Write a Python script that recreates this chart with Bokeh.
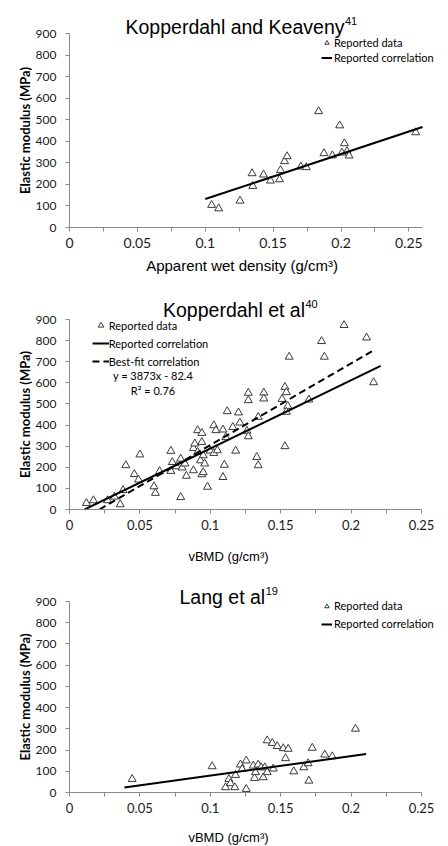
import math
from bokeh.plotting import figure
from bokeh.models import Range1d, FixedTicker, Label, Legend, LegendItem
from bokeh.layouts import column
from bokeh.embed import file_html
from bokeh.resources import INLINE

# ---------------- data ----------------
# Panel 1: Kopperdahl and Keaveny
kk_density = [0.1047, 0.1099, 0.1256, 0.1345, 0.1350, 0.1429, 0.1480, 0.1547, 0.1554,
              0.1584, 0.1603, 0.1704, 0.1744, 0.1835, 0.1874, 0.1936, 0.1990, 0.2007,
              0.2025, 0.2044, 0.2059, 0.2550]
kk_modulus = [104, 88, 124, 251, 192, 245, 217, 223, 266,
              307, 330, 282, 279, 539, 344, 334, 473, 347,
              390, 353, 333, 441]
kk_fit_density = [0.100, 0.260]
kk_fit_modulus = [132, 466]

# Panel 2: Kopperdahl et al
kop_vbmd = [0.012, 0.017, 0.027, 0.032, 0.036, 0.038, 0.040, 0.046, 0.049, 0.050,
            0.060, 0.061, 0.064, 0.072, 0.072, 0.073, 0.076, 0.079, 0.079, 0.080,
            0.082, 0.083, 0.088, 0.088, 0.089, 0.091, 0.091, 0.093, 0.094, 0.095,
            0.094, 0.094, 0.096, 0.095, 0.098, 0.100, 0.1025, 0.1025, 0.104, 0.105,
            0.109, 0.109, 0.110, 0.111, 0.112, 0.116, 0.118, 0.120, 0.121, 0.126,
            0.127, 0.127, 0.127, 0.133, 0.134, 0.134, 0.138, 0.138, 0.151, 0.153,
            0.154, 0.155, 0.154, 0.153, 0.156, 0.170, 0.179, 0.181, 0.195, 0.211,
            0.216]
kop_modulus = [30, 43, 43, 60, 24, 91, 209, 167, 141, 260,
               109, 78, 181, 182, 277, 224, 204, 240, 58, 198,
               217, 159, 185, 290, 312, 272, 375, 232, 166, 176,
               319, 362, 217, 256, 107, 278, 267, 398, 375, 280,
               378, 153, 211, 342, 465, 390, 278, 459, 411, 372,
               346, 552, 517, 248, 209, 438, 553, 525, 523, 580,
               555, 490, 462, 299, 723, 520, 797, 723, 873, 814,
               602]
kop_fit_vbmd = [0.0107, 0.221]
kop_fit_modulus = [0, 680]
kop_best_vbmd = [0.0213, 0.2154]
kop_best_modulus = [0, 752]
kop_equation = "y = 3873x - 82.4"
kop_r2 = "R\u00b2 = 0.76"

# Panel 3: Lang et al
lang_vbmd = [0.0445, 0.1013, 0.1108, 0.1132, 0.1143, 0.1174, 0.1179, 0.1214, 0.1226,
             0.1255, 0.1255, 0.1305, 0.1314, 0.1321, 0.1340, 0.1361, 0.1376, 0.1387,
             0.1404, 0.1404, 0.1440, 0.1447, 0.1475, 0.1518, 0.1534, 0.1553, 0.1593,
             0.1664, 0.1695, 0.1700, 0.1724, 0.1813, 0.1866, 0.2031]
lang_modulus = [63, 123, 24, 63, 43, 24, 82, 131, 110,
                150, 16, 126, 68, 95, 131, 118, 71, 118,
                95, 245, 233, 112, 218, 208, 161, 205, 99,
                118, 137, 55, 210, 178, 170, 300]
lang_fit_vbmd = [0.039, 0.2107]
lang_fit_modulus = [24, 181]

# titles: main text and reference number (superscript)
titles = [("Kopperdahl and Keaveny", "41"), ("Kopperdahl et al", "40"), ("Lang et al", "19")]

y_ticks = [0, 100, 200, 300, 400, 500, 600, 700, 800, 900]
x_major_ticks = [0, 0.05, 0.1, 0.15, 0.2, 0.25]
x_tick_labels = ["0", "0.05", "0.1", "0.15", "0.2", "0.25"]
x_minor_ticks = [0.025, 0.075, 0.125, 0.175, 0.225]

AXIS_GREY = "#8a8a8a"
TEXT = "#1a1a1a"
MARK = "#3a3a3a"
W = 448
TITLE_PX = 19.5
SUP_PX = 11

# Arial / Liberation Sans advance widths (per 1000 em) for title layout
ARIAL = {"K": 667, "o": 556, "p": 556, "e": 556, "r": 333, "d": 556, "a": 556, "h": 556,
         "l": 222, " ": 278, "n": 556, "v": 500, "y": 500, "t": 278, "L": 556, "g": 556}


def text_width(s, size):
    return sum(ARIAL.get(c, 556) for c in s) / 1000.0 * size


class Panel:
    """One chart; the plotting frame fills the whole figure, the axes sit at data 0."""

    def __init__(self, fig_top, height, ax_left, ax_right, xmax, ax_top, ax_bottom, xtick_size):
        self.fig_top = fig_top
        self.sx = (ax_right - ax_left) / xmax          # px per x unit
        self.sy = (ax_bottom - ax_top) / 900.0         # px per y unit
        self.ax_left = ax_left
        self.ax_bottom = ax_bottom
        x0 = -ax_left / self.sx
        x1 = (W - ax_left) / self.sx
        y1 = (ax_bottom - fig_top) / self.sy
        y0 = (ax_bottom - fig_top - height) / self.sy
        p = figure(width=W, height=height, output_backend="svg", toolbar_location=None,
                   title=None, min_border=0, min_border_left=0, min_border_right=0,
                   min_border_top=0, min_border_bottom=0,
                   x_range=Range1d(x0, x1), y_range=Range1d(y0, y1))
        p.outline_line_color = None
        p.grid.grid_line_color = None
        p.background_fill_color = "white"
        p.border_fill_color = "white"

        xa = p.xaxis[0]
        xa.fixed_location = 0
        xa.bounds = (0, xmax)
        xa.ticker = FixedTicker(ticks=x_major_ticks, minor_ticks=x_minor_ticks)
        xa.major_label_overrides = {t: l for t, l in zip(x_major_ticks, x_tick_labels)}
        xa.axis_line_color = AXIS_GREY
        xa.major_tick_line_color = AXIS_GREY
        xa.minor_tick_line_color = AXIS_GREY
        xa.major_tick_in = 0
        xa.major_tick_out = 4
        xa.minor_tick_in = 0
        xa.minor_tick_out = 4
        xa.major_label_standoff = 6
        xa.major_label_text_font = "Lato"
        xa.major_label_text_font_size = xtick_size
        xa.major_label_text_color = TEXT

        ya = p.yaxis[0]
        ya.fixed_location = 0
        ya.bounds = (0, 900)
        ya.ticker = FixedTicker(ticks=y_ticks)
        ya.axis_line_color = AXIS_GREY
        ya.major_tick_line_color = AXIS_GREY
        ya.major_tick_in = 0
        ya.major_tick_out = 4
        ya.minor_tick_line_color = None
        ya.major_label_standoff = 9
        ya.major_label_text_font = "Lato"
        ya.major_label_text_font_size = "12px"
        ya.major_label_text_color = TEXT
        self.p = p
        self.height = height

    def d(self, px, py):
        """page pixel -> data coordinates"""
        return ((px - self.ax_left) / self.sx, (self.ax_bottom - py) / self.sy)

    def text(self, txt, px, py, font, size, baseline="middle", style="normal", angle=0.0,
             align="center"):
        x, y = self.d(px, py)
        self.p.add_layout(Label(x=x, y=y, text=txt, text_align=align, text_baseline=baseline,
                                text_font=font, text_font_size=size, text_font_style=style,
                                angle=angle, text_color="#000000"))

    def labels(self, title, title_left, title_base, xlabel, xlabel_pos, xlabel_size, ylabel_pos):
        main, sup = title
        self.text(main, title_left, title_base, "Liberation Sans", "%gpx" % TITLE_PX,
                  baseline="alphabetic", align="left")
        self.text(sup, title_left + text_width(main, TITLE_PX) + 0.5, title_base - 6,
                  "Liberation Sans", "%gpx" % SUP_PX, baseline="alphabetic", align="left")
        self.text(xlabel, xlabel_pos[0], xlabel_pos[1], "Liberation Sans", xlabel_size)
        self.text("Elastic modulus (MPa)", ylabel_pos[0], ylabel_pos[1], "Lato", "13px",
                  style="bold", angle=math.pi / 2)

    def legend(self, items, glyph_left, first_row, gw, gh, spacing, standoff):
        n = len(items)
        top = first_row - gh / 2.0
        bottom = top + n * gh + (n - 1) * spacing
        loc = (glyph_left, self.fig_top + self.height - bottom)
        leg = Legend(items=items, location=loc, glyph_width=gw, glyph_height=gh,
                     label_height=gh, label_width=10, spacing=spacing, label_standoff=standoff,
                     padding=0, margin=0, border_line_color=None, background_fill_alpha=0,
                     label_text_font="Lato", label_text_font_size="11px",
                     label_text_color="#000000")
        self.p.add_layout(leg)


tri = dict(marker="triangle", size=8, fill_color="white", line_color=MARK, line_width=1)

# ---------- panel 1 ----------
P1 = Panel(0, 285, 69, 422, 0.26, 33, 227, "14px")
r1 = P1.p.scatter(kk_density, kk_modulus, **tri)
l1 = P1.p.line(kk_fit_density, kk_fit_modulus, line_color="black", line_width=2)
P1.labels(titles[0], 125, 26, "Apparent wet density (g/cm\u00b3)", (241.5, 265), "15px", (24, 130))
P1.legend([LegendItem(label="Reported data", renderers=[r1]),
           LegendItem(label="Reported correlation", renderers=[l1])],
          321, 42, 11, 13, 2, 2)

# ---------- panel 2 ----------
P2 = Panel(285, 280, 69, 421, 0.25, 319, 509, "13px")
r2 = P2.p.scatter(kop_vbmd, kop_modulus, **tri)
l2 = P2.p.line(kop_fit_vbmd, kop_fit_modulus, line_color="black", line_width=2)
l2b = P2.p.line(kop_best_vbmd, kop_best_modulus, line_color="black", line_width=2,
                line_dash="7 4")
P2.labels(titles[1], 162.5, 309.3, "vBMD (g/cm\u00b3)", (228, 556), "13px", (24, 414))
P2.legend([LegendItem(label="Reported data", renderers=[r2]),
           LegendItem(label="Reported correlation", renderers=[l2]),
           LegendItem(label="Best-fit correlation", renderers=[l2b])],
          91.7, 325, 17, 14, 4, 0)
P2.text(kop_equation, 152.5, 375.3, "Lato", "11px")
P2.text(kop_r2, 152.5, 390, "Lato", "11px")

# ---------- panel 3 ----------
P3 = Panel(565, 281, 69, 421, 0.25, 601, 792, "13px")
r3 = P3.p.scatter(lang_vbmd, lang_modulus, **tri)
l3 = P3.p.line(lang_fit_vbmd, lang_fit_modulus, line_color="black", line_width=2)
P3.labels(titles[2], 179, 596, "vBMD (g/cm\u00b3)", (228, 837), "13px", (24, 696.5))
P3.legend([LegendItem(label="Reported data", renderers=[r3]),
           LegendItem(label="Reported correlation", renderers=[l3])],
          321, 605.7, 11, 14, 4, 2)

layout = column(P1.p, P2.p, P3.p, spacing=0)
open("out.html", "w").write(file_html(layout, INLINE))
